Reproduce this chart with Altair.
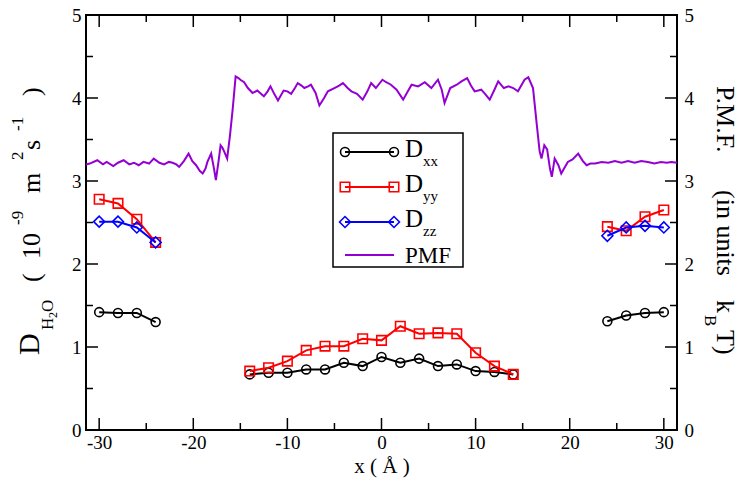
import altair as alt
import pandas as pd

# ---------------- data ----------------
x_left = [-30, -28, -26, -24]
x_mid = [-14, -12, -10, -8, -6, -4, -2, 0, 2, 4, 6, 8, 10, 12, 14]
x_right = [24, 26, 28, 30]

dxx_left = [1.42, 1.41, 1.41, 1.30]
dxx_mid = [0.67, 0.69, 0.69, 0.73, 0.73, 0.81, 0.77, 0.88, 0.81, 0.86, 0.77, 0.79, 0.71, 0.70, 0.67]
dxx_right = [1.31, 1.38, 1.41, 1.42]

dyy_left = [2.78, 2.73, 2.54, 2.26]
dyy_mid = [0.71, 0.75, 0.83, 0.96, 1.01, 1.01, 1.10, 1.08, 1.25, 1.16, 1.17, 1.16, 0.93, 0.77, 0.67]
dyy_right = [2.45, 2.40, 2.57, 2.65]

dzz_left = [2.51, 2.51, 2.44, 2.26]
dzz_right = [2.34, 2.44, 2.46, 2.44]

pmf_x = [-31.4, -31.0, -30.2, -29.6, -29.2, -28.5, -28.0, -27.4, -26.8, -26.3,
         -25.8, -25.3, -24.7, -24.2, -23.6, -23.1, -22.6, -22.2, -21.8, -21.5,
         -21.0, -20.5, -20.1, -19.7, -19.3, -19.0, -18.7, -18.5, -18.1, -17.8,
         -17.6, -17.3, -17.1, -16.9, -16.7, -16.4, -16.1, -15.8, -15.5, -15.2,
         -15.0, -14.6, -14.2, -13.7, -13.2, -12.9, -12.5, -12.1, -11.8, -11.4,
         -11.0, -10.4, -10.0, -9.6, -9.2, -8.9, -8.5, -8.2, -7.8, -7.5,
         -7.0, -6.6, -6.1, -5.7, -5.0, -4.5, -4.1, -3.6, -3.2, -2.6,
         -2.0, -1.5, -1.1, -0.6, 0.1, 0.5, 1.0, 1.6, 2.3, 2.8,
         3.2, 3.9, 4.6, 5.3, 6.0, 6.4, 6.7, 7.3, 8.0, 8.5,
         9.1, 9.5, 9.9, 10.6, 11.0, 11.5, 12.0, 12.4, 13.0, 13.5,
         14.0, 14.5, 15.2, 15.6, 16.1, 16.5, 16.8, 17.0, 17.3, 17.6,
         17.9, 18.1, 18.4, 18.8, 19.1, 19.4, 19.8, 20.3, 20.9, 21.4,
         21.8, 22.2, 22.7, 23.4, 24.1, 24.8, 25.5, 26.2, 26.9, 27.6,
         28.3, 29.0, 29.7, 30.3, 30.8, 31.4]
pmf_y = [3.20, 3.21, 3.25, 3.20, 3.23, 3.18, 3.22, 3.25, 3.20, 3.22,
         3.19, 3.23, 3.21, 3.27, 3.22, 3.20, 3.23, 3.22, 3.20, 3.17,
         3.24, 3.33, 3.24, 3.19, 3.12, 3.09, 3.15, 3.23, 3.33, 3.15,
         3.01, 3.25, 3.43, 3.40, 3.35, 3.27, 3.55, 3.88, 4.26, 4.24,
         4.22, 4.19, 4.12, 4.06, 4.09, 4.06, 4.02, 4.08, 4.14, 4.05,
         3.97, 4.09, 4.08, 4.05, 4.12, 4.18, 4.15, 4.12, 4.14, 4.16,
         4.06, 3.91, 4.00, 4.08, 4.12, 4.15, 4.18, 4.12, 4.08, 4.05,
         3.98, 4.08, 4.18, 4.12, 4.22, 4.19, 4.16, 4.10, 3.98, 4.08,
         4.16, 4.14, 4.19, 4.12, 4.22, 4.10, 3.94, 4.12, 4.16, 4.20,
         4.24, 4.15, 4.08, 4.10, 4.05, 3.98, 4.10, 4.20, 4.12, 4.14,
         4.12, 4.08, 4.22, 4.25, 4.12, 3.68, 3.36, 3.27, 3.43, 3.38,
         3.15, 3.05, 3.27, 3.19, 3.09, 3.15, 3.23, 3.26, 3.33, 3.24,
         3.19, 3.21, 3.21, 3.23, 3.22, 3.24, 3.22, 3.24, 3.22, 3.24,
         3.23, 3.21, 3.23, 3.22, 3.23, 3.22]

x_major = [-30, -20, -10, 0, 10, 20, 30]
x_minor = [-25, -15, -5, 5, 15, 25]
y_major = [0, 1, 2, 3, 4, 5]
y_minor = [0.5, 1.5, 2.5, 3.5, 4.5]

# ---------------- layout ----------------
W, H = 591, 415
PL, PT = 86, 15
FONT = "'Liberation Serif', 'Times New Roman', Times, serif"
one = pd.DataFrame({"a": [0]})

xscale = alt.Scale(domain=[-31.4, 31.4], nice=False, zero=False)
yscale = alt.Scale(domain=[0, 5], nice=False, zero=False)

xaxis = alt.Axis(values=x_major, labelExpr="'' + datum.value", ticks=False, domain=False,
                 grid=False, labelFont=FONT, labelFontSize=19, labelColor="black",
                 labelPadding=3, title="x ( Å )", titleFont=FONT, titleFontSize=21,
                 titleFontWeight="normal", titleColor="black", titlePadding=3)
yaxis = alt.Axis(values=y_major, labelExpr="'' + datum.value", ticks=False, domain=False,
                 grid=False, labelFont=FONT, labelFontSize=19, labelColor="black",
                 labelPadding=5, title=None)
yaxis_r = alt.Axis(values=y_major, labelExpr="'' + datum.value", ticks=False, domain=False,
                   grid=False, labelFont=FONT, labelFontSize=19, labelColor="black",
                   labelPadding=7, title=None, orient="right")

X = lambda: alt.X("x:Q", scale=xscale, axis=xaxis)
Y = lambda: alt.Y("y:Q", scale=yscale, axis=yaxis)


def seg_frame(parts):
    rows = []
    for seg, (xs, ys) in enumerate(parts):
        for xv, yv in zip(xs, ys):
            rows.append({"x": xv, "y": yv, "seg": seg})
    return pd.DataFrame(rows)


def series(parts, color, shape, size):
    df = seg_frame(parts)
    base = alt.Chart(df).encode(x=X(), y=Y(), detail="seg:N")
    line = base.mark_line(color=color, strokeWidth=2)
    pts = base.mark_point(shape=shape, size=size, color=color, filled=False,
                          strokeWidth=1.6, opacity=1)
    return [line, pts]


def xticks(vals, length, top):
    y1, y2 = (0, length) if top else (H, H - length)
    return alt.Chart(pd.DataFrame({"x": vals})).mark_rule(color="black", strokeWidth=1.5).encode(
        x=X(), y=alt.value(y1), y2=alt.value(y2))


def yticks(vals, length, right):
    x1, x2 = (W, W - length) if right else (0, length)
    return alt.Chart(pd.DataFrame({"y": vals})).mark_rule(color="black", strokeWidth=1.5).encode(
        y=Y(), x=alt.value(x1), x2=alt.value(x2))


def txt(s, px, py, size, angle=0):
    return alt.Chart(one).mark_text(text=s, font=FONT, fontSize=size, angle=angle,
                                    align="left", baseline="alphabetic", color="black").encode(
        x=alt.value(px - PL), y=alt.value(py - PT))


layers = []
layers += series([(x_left, dxx_left), (x_mid, dxx_mid), (x_right, dxx_right)], "black", "circle", 80)
layers += series([(x_left, dyy_left), (x_mid, dyy_mid), (x_right, dyy_right)], "red", "square", 90)
layers += series([(x_left, dzz_left), (x_right, dzz_right)], "blue", "diamond", 120)

# inward ticks
layers += [xticks(x_major, 12, False), xticks(x_minor, 7, False),
           xticks(x_major, 12, True), xticks(x_minor, 7, True),
           yticks(y_major, 12, False), yticks(y_minor, 7, False),
           yticks(y_major, 12, True), yticks(y_minor, 7, True)]

# legend
layers.append(alt.Chart(one).mark_rect(fill="white", stroke="black", strokeWidth=1.5).encode(
    x=alt.value(333 - PL), x2=alt.value(463 - PL), y=alt.value(133 - PT), y2=alt.value(267 - PT)))
leg = [("black", "circle", 80, 152, "xx"), ("red", "square", 90, 187, "yy"),
       ("blue", "diamond", 120, 222, "zz")]
for color, shape, size, ly, sub in leg:
    layers.append(alt.Chart(one).mark_rule(color=color, strokeWidth=2).encode(
        x=alt.value(345 - PL), x2=alt.value(394 - PL), y=alt.value(ly - PT)))
    for lx in (345, 394):
        layers.append(alt.Chart(one).mark_point(shape=shape, size=size, color=color, filled=False,
                                                strokeWidth=1.6, opacity=1).encode(
            x=alt.value(lx - PL), y=alt.value(ly - PT)))
    layers.append(txt("D", 405, ly + 5, 25))
    layers.append(txt(sub, 423, ly + 14, 15))
layers.append(alt.Chart(one).mark_rule(color="#9400d3", strokeWidth=2).encode(
    x=alt.value(345 - PL), x2=alt.value(394 - PL), y=alt.value(255 - PT)))
layers.append(txt("PMF", 405, 263, 23))

# left title (rotated, reading upward)
layers += [
    txt("D", 39, 355, 30, 270),
    txt("H", 53, 330, 17, 270),
    txt("2", 57, 318, 12, 270),
    txt("O", 53, 312, 17, 270),
    txt("(", 40, 282, 26, 270),
    txt("10", 40, 259, 26, 270),
    txt("-9", 23, 225, 17, 270),
    txt("m", 40, 193, 26, 270),
    txt("2", 23, 160, 17, 270),
    txt("s", 40, 150, 26, 270),
    txt("-1", 23, 131, 17, 270),
    txt(")", 40, 96, 26, 270),
]
# right title (rotated, reading downward)
layers += [
    txt("P.M.F.", 717, 86, 26, 90),
    txt("(in units", 717, 190, 26, 90),
    txt("k", 717, 300, 26, 90),
    txt("B", 705, 315, 17, 90),
    txt("T)", 717, 330, 26, 90),
]

inner = alt.layer(*layers)

pmf_df = pd.DataFrame({"x": pmf_x, "y": pmf_y})
pmf = alt.Chart(pmf_df).mark_line(color="#9400d3", strokeWidth=2).encode(
    x=X(), y=alt.Y("y:Q", scale=yscale, axis=yaxis_r))

chart = alt.layer(inner, pmf).resolve_scale(y="independent").properties(
    width=W, height=H,
    autosize=alt.AutoSizeParams(type="none"),
    padding={"left": PL, "top": PT, "right": 745 - PL - W, "bottom": 494 - PT - H},
    background="white",
).configure_view(stroke="black", strokeWidth=2)

chart.save("out.html", embed_options={"renderer": "svg", "actions": False})
